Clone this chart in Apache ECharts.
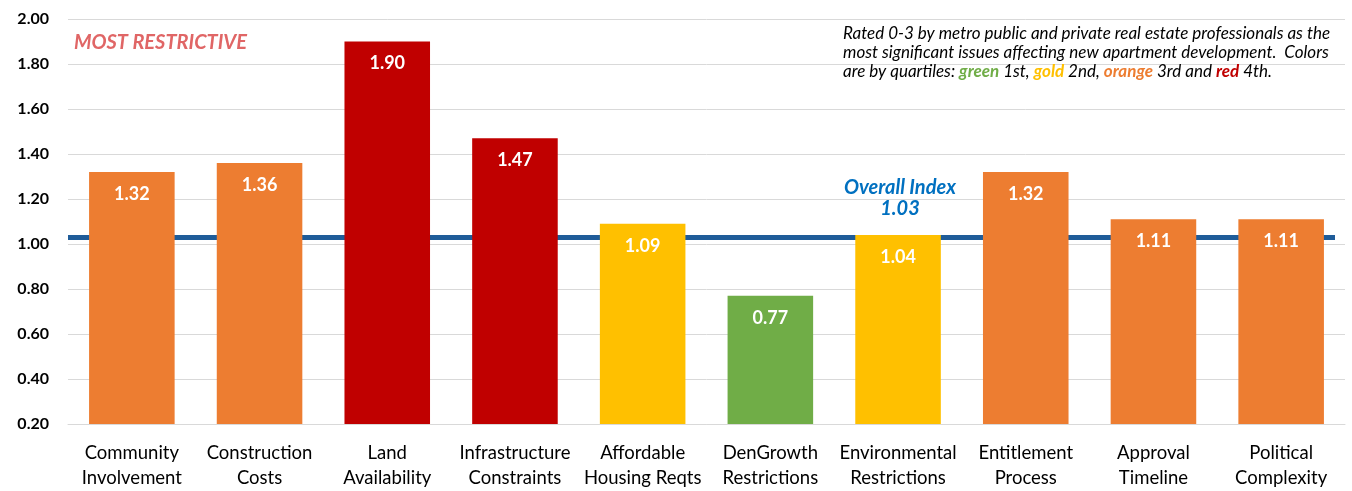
<!DOCTYPE html>
<html><head><meta charset="utf-8">
<script src="https://cdn.jsdelivr.net/npm/echarts@6/dist/echarts.min.js"></script>
<style>html,body{margin:0;padding:0;background:#fff}#c{width:1352px;height:491px}</style>
</head><body><div id="c"></div>
<script>
const categories = ["Community\nInvolvement","Construction\nCosts","Land\nAvailability","Infrastructure\nConstraints","Affordable\nHousing Reqts","DenGrowth\nRestrictions","Environmental\nRestrictions","Entitlement\nProcess","Approval\nTimeline","Political\nComplexity"];
const values = [1.32, 1.36, 1.90, 1.47, 1.09, 0.77, 1.04, 1.32, 1.11, 1.11];
const quartiles = ["orange","orange","red","red","gold","green","gold","orange","orange","orange"];
const overallIndex = 1.03;
const palette = {green:"#70AD47", gold:"#FFC000", orange:"#ED7D31", red:"#C00000"};
const FONT = "Lato, 'Open Sans', sans-serif";
const NF = "italic 17px " + FONT, BF = "italic bold 17px " + FONT;

const chart = echarts.init(document.getElementById('c'));
chart.setOption({
  animation:false,
  grid:{left:68,right:7,top:19,bottom:64,containLabel:false},
  xAxis:{type:'category',data:categories,
    axisLine:{lineStyle:{color:'#d9d9d9',width:1}},axisTick:{show:false},
    axisLabel:{color:'#000',fontFamily:FONT,fontSize:18.5,lineHeight:25,margin:17,interval:0}},
  yAxis:{type:'value',min:0.2,max:2.0,interval:0.2,
    axisLine:{show:false},axisTick:{show:false},
    splitLine:{lineStyle:{color:'#d9d9d9',width:1}},
    axisLabel:{color:'#000',fontFamily:FONT,fontSize:16,fontWeight:'bold',margin:19,formatter:v=>v.toFixed(2)}},
  series:[
    {type:'line',data:[],z:1,
      markLine:{silent:true,symbol:'none',label:{show:false},z:1,
        lineStyle:{color:'#1F5C99',width:5,type:'solid'},
        data:[[{coord:[0,overallIndex],x:68},{coord:[9,overallIndex],x:1335}]]}},
    {type:'bar',barCategoryGap:'33%',z:3,
    data:values.map((v,i)=>({value:v,itemStyle:{color:palette[quartiles[i]]}})),
    label:{show:true,position:'insideTop',distance:13,color:'#fff',fontFamily:FONT,fontSize:18,fontWeight:'bold',formatter:p=>p.value.toFixed(2)}}
  ],
  graphic:[
    {type:'text',x:74,y:33,z:100,style:{text:'MOST RESTRICTIVE',fill:'#E06666',font:'italic bold 20px '+FONT}},
    {type:'text',x:900,y:177,z:100,style:{text:'Overall Index\n'+overallIndex.toFixed(2),fill:'#0070C0',font:'italic bold 20px '+FONT,align:'center',textAlign:'center',lineHeight:21}},
    {type:'text',x:843,y:24,z:100,style:{
      text:'Rated 0-3 by metro public and private real estate professionals as the\nmost significant issues affecting new apartment development.  Colors\nare by quartiles: {g|green} 1st, {y|gold} 2nd, {o|orange} 3rd and {r|red} 4th.',
      fill:'#000',font:NF,lineHeight:19,
      rich:{g:{fill:palette.green,font:BF},y:{fill:palette.gold,font:BF},o:{fill:palette.orange,font:BF},r:{fill:palette.red,font:BF}}}}
  ]
});
</script></body></html>
